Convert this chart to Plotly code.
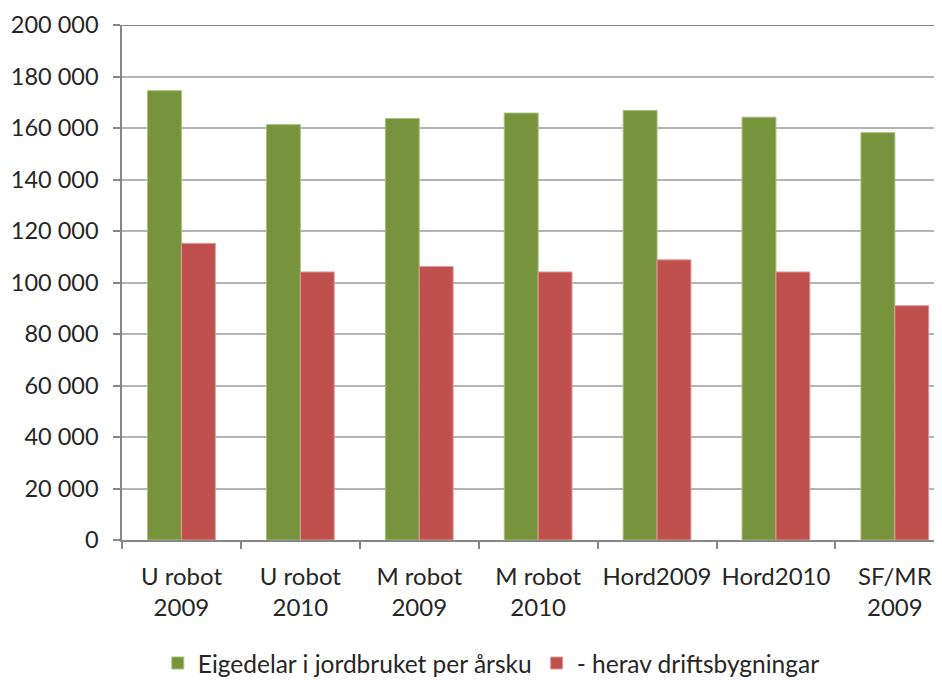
import plotly.graph_objects as go

categories = ["U robot<br>2009", "U robot<br>2010", "M robot<br>2009", "M robot<br>2010",
              "Hord2009", "Hord2010", "SF/MR<br>2009"]
eigedelar = [174500, 161300, 163700, 165800, 166800, 164200, 158200]
driftsbygningar = [115200, 104100, 106200, 104100, 108800, 104100, 91000]
series_names = ["Eigedelar i jordbruket per årsku", "- herav driftsbygningar"]
y_ticks = [0, 20000, 40000, 60000, 80000, 100000, 120000, 140000, 160000, 180000, 200000]

FONT = "Lato"
TXT = "#262626"

fig = go.Figure()
fig.add_trace(go.Bar(x=categories, y=eigedelar, name=series_names[0],
                     marker=dict(color="#77933C", line=dict(color="#a7c07a", width=1))))
fig.add_trace(go.Bar(x=categories, y=driftsbygningar, name=series_names[1],
                     marker=dict(color="#C0504D", line=dict(color="#e09a98", width=1))))

fig.update_layout(
    width=942, height=680,
    margin=dict(l=114, r=0, t=17, b=148),
    paper_bgcolor="white", plot_bgcolor="white",
    barmode="group", bargap=0.43, bargroupgap=0,
    separators=", ",
    font=dict(family=FONT, size=22, color=TXT),
    legend=dict(orientation="h", x=0.446, xanchor="center", y=-0.239, yanchor="middle",
                font=dict(family=FONT, size=24.5, color=TXT), itemwidth=30,
                traceorder="normal"),
    showlegend=True,
)
fig.update_xaxes(
    type="category", range=[-0.5, -0.5 + 828 / 118.9],
    showline=True, linecolor="#868686", linewidth=1.5,
    ticks="outside", ticklen=7, tickcolor="#868686", tickwidth=1.5,
    tickson="boundaries", showgrid=False, ticklabelstandoff=14,
    tickfont=dict(family=FONT, size=24, color=TXT),
)
fig.update_yaxes(
    range=[0, 200000], tickvals=y_ticks, tickformat=",d",
    showline=True, linecolor="#868686", linewidth=1.5,
    ticks="outside", ticklen=7, tickcolor="#868686", tickwidth=1.5,
    showgrid=True, gridcolor="#b4b4b4", gridwidth=1.5,
    zeroline=False, ticklabelstandoff=10,
    tickfont=dict(family=FONT, size=23.5, color=TXT),
)
fig.add_shape(type="line", xref="paper", yref="y", x0=0, x1=1, y0=200000, y1=200000,
              line=dict(color="#5a5a5a", width=1.5), layer="above")

fig.write_html("out.html")
